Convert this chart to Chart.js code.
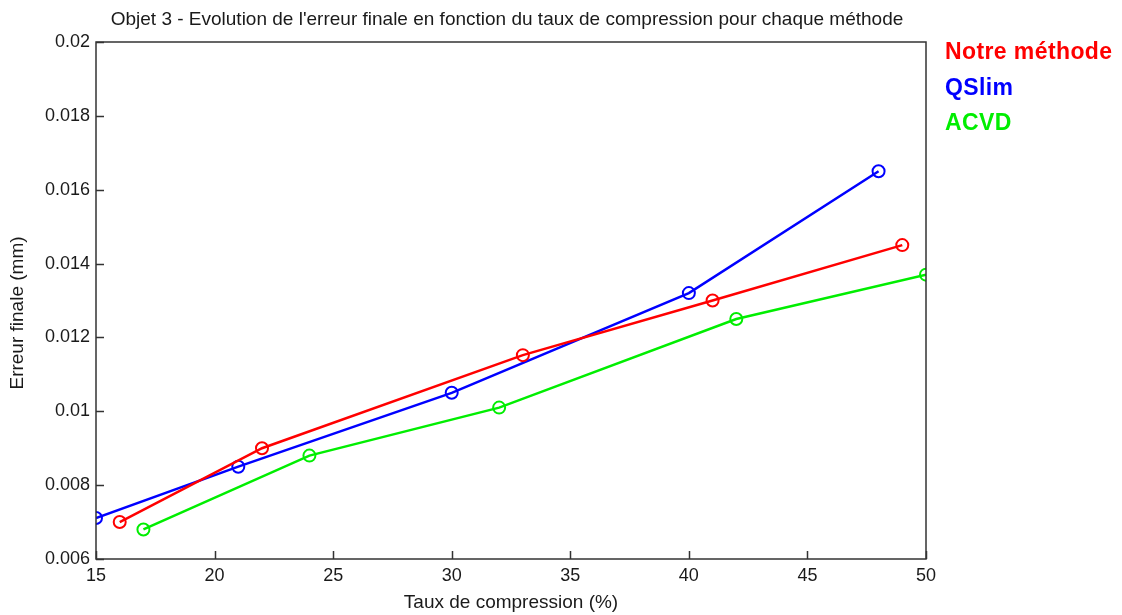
<!DOCTYPE html>
<html>
<head>
<meta charset="utf-8">
<script src="https://cdn.jsdelivr.net/npm/chart.js@4"></script>
<style>
  html, body { margin: 0; padding: 0; background: #fff; }
  #wrap { width: 1122px; height: 615px; position: relative; }
</style>
</head>
<body>
<div id="wrap"><canvas id="chart" width="1122" height="615"></canvas></div>
<script>
// data
const seriesNames = ['Notre méthode', 'QSlim', 'ACVD'];
const seriesColors = ['#ff0000', '#0000ff', '#00ee00'];

const notreX = [16, 22, 33, 41, 49];
const notreY = [0.0070, 0.0090, 0.01152, 0.0130, 0.0145];

const qslimX = [15, 21, 30, 40, 48];
const qslimY = [0.00711, 0.0085, 0.0105, 0.0132, 0.0165];

const acvdX = [17, 24, 32, 42, 50];
const acvdY = [0.0068, 0.0088, 0.0101, 0.0125, 0.0137];

const xTicks = [15, 20, 25, 30, 35, 40, 45, 50];
const yTicks = [0.006, 0.008, 0.01, 0.012, 0.014, 0.016, 0.018, 0.02];
const yTickLabels = ['0.006', '0.008', '0.01', '0.012', '0.014', '0.016', '0.018', '0.02'];

const titleText = "Objet 3 - Evolution de l'erreur finale en fonction du taux de compression pour chaque méthode";
const xTitle = 'Taux de compression (%)';
const yTitle = 'Erreur finale (mm)';

const toPoints = (xs, ys) => xs.map((x, i) => ({ x: x, y: ys[i] }));
const allSeries = [toPoints(notreX, notreY), toPoints(qslimX, qslimY), toPoints(acvdX, acvdY)];

const axisColor = '#333333';
const textColor = '#1a1a1a';
const fontFamily = '"Liberation Sans", Arial, sans-serif';

// box, inward ticks, titles and coloured legend text
const matlabAxes = {
  id: 'matlabAxes',
  afterDraw(chart) {
    const { ctx, chartArea: a, scales } = chart;
    ctx.save();
    ctx.strokeStyle = axisColor;
    ctx.lineWidth = 1.5;
    ctx.strokeRect(a.left, a.top, a.right - a.left, a.bottom - a.top);

    ctx.beginPath();
    xTicks.forEach((v) => {
      const px = Math.round(scales.x.getPixelForValue(v)) + 0.5;
      ctx.moveTo(px, a.bottom); ctx.lineTo(px, a.bottom - 8);
    });
    yTicks.forEach((v) => {
      const py = Math.round(scales.y.getPixelForValue(v)) + 0.5;
      ctx.moveTo(a.left, py); ctx.lineTo(a.left + 8, py);
    });
    ctx.lineWidth = 1.5;
    ctx.stroke();

    ctx.fillStyle = textColor;
    ctx.textAlign = 'center';
    ctx.textBaseline = 'middle';
    ctx.font = '19px ' + fontFamily;
    ctx.fillText(titleText, (a.left + a.right) / 2 - 4, 20, 812);

    ctx.fillText(xTitle, (a.left + a.right) / 2, 603);

    ctx.save();
    ctx.translate(18, 313);
    ctx.rotate(-Math.PI / 2);
    ctx.fillText(yTitle, 0, 0);
    ctx.restore();

    ctx.font = 'bold 23px ' + fontFamily;
    ctx.letterSpacing = '0.4px';
    ctx.textAlign = 'left';
    seriesNames.forEach((name, i) => {
      ctx.fillStyle = seriesColors[i];
      ctx.fillText(name, 945, 53 + i * 35.5);
    });
    ctx.restore();
  }
};

new Chart(document.getElementById('chart'), {
  type: 'scatter',
  data: {
    datasets: allSeries.map((pts, i) => ({
      label: seriesNames[i],
      data: pts,
      showLine: true,
      borderColor: seriesColors[i],
      backgroundColor: 'rgba(0,0,0,0)',
      borderWidth: 2.5,
      pointRadius: 6,
      pointBorderWidth: 2,
      pointBorderColor: seriesColors[i],
      pointBackgroundColor: 'rgba(0,0,0,0)',
      pointHoverRadius: 6,
      tension: 0
    }))
  },
  options: {
    responsive: false,
    animation: false,
    events: [],
    layout: { padding: { top: 42, right: 196, left: 0, bottom: 0 } },
    plugins: {
      legend: { display: false },
      title: { display: false },
      tooltip: { enabled: false }
    },
    scales: {
      x: {
        type: 'linear',
        min: 15,
        max: 50,
        afterBuildTicks: (s) => { s.ticks = xTicks.map((v) => ({ value: v })); },
        afterFit: (s) => { s.height = 56; },
        grid: { display: false, drawTicks: false },
        border: { display: false },
        ticks: {
          padding: 6,
          color: textColor,
          font: { family: fontFamily, size: 18 },
          maxRotation: 0,
          autoSkip: false
        }
      },
      y: {
        type: 'linear',
        min: 0.006,
        max: 0.02,
        afterBuildTicks: (s) => { s.ticks = yTicks.map((v) => ({ value: v })); },
        afterFit: (s) => { s.width = 96; },
        grid: { display: false, drawTicks: false },
        border: { display: false },
        ticks: {
          padding: 6,
          color: textColor,
          font: { family: fontFamily, size: 18 },
          autoSkip: false,
          callback: (v) => yTickLabels[yTicks.findIndex((t) => Math.abs(t - v) < 1e-9)]
        }
      }
    }
  },
  plugins: [matlabAxes]
});
</script>
</body>
</html>
